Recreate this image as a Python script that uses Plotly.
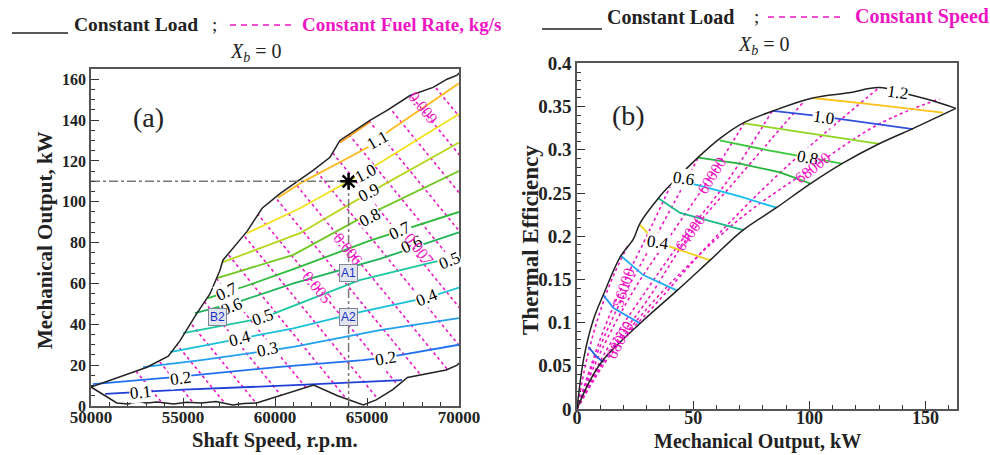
import plotly.graph_objects as go

W, H = 990, 455
def px(x): return x / W
def py(y): return 1 - y / H

SERIF = "Liberation Serif"
PINK = "#ee16c4"

# ---------------- Panel (a) data ----------------
UB_A_SPEED = [50000, 51740, 53040, 54200, 54840, 55760, 56470, 57010, 57170, 58480, 59300, 60270, 61360, 62070, 62990, 63530, 65160, 66090, 67340, 68590, 69350, 69900, 70000]
UB_A_POWER = [9.3, 15, 19, 24.4, 32, 45.5, 55, 66.5, 71.4, 85.5, 96.8, 104, 111, 115.4, 121.8, 130, 139.8, 144.7, 152, 156, 160, 162, 163]
LB_A_SPEED = [50000, 51400, 52000, 52600, 53000, 53600, 54500, 55200, 56000, 56800, 57700, 58300, 59000, 60420, 62100, 63400, 64800, 65500, 66400, 67200, 68400, 69300, 69900, 70000]
LB_A_POWER = [9.3, 1.5, 1.0, 2.2, 1.5, 2.0, 1.0, 1.8, 1.5, 2.2, 0.5, 1.2, 1.5, 5.4, 10.3, 5, 0.5, 3, 8, 14, 16, 17.6, 20, 21]

LOAD_A = ["0.1", "0.2", "0.3", "0.4", "0.5", "0.6", "0.7", "0.8", "0.9", "1.0", "1.1", "1.2"]
LOAD_A_SPEED = [
    [50770, 55000, 61360, 66900],
    [50100, 55000, 60270, 64780, 66250, 69900, 70000],
    [52830, 56000, 59570, 61000, 65700, 70000],
    [54290, 58100, 61000, 64600, 68260, 70000],
    [55000, 59300, 61000, 64600, 68600, 70000],
    [55650, 58000, 61000, 65700, 70000],
    [56360, 58500, 61000, 65160, 70000],
    [56850, 61000, 64460, 70000],
    [57170, 61360, 65160, 70000],
    [58480, 61360, 64000, 65330, 70000],
    [60160, 61360, 65050, 66250, 70000],
    [63530, 65160],
]
LOAD_A_POWER = [
    [5.9, 8.0, 10.3, 12.7],
    [10.7, 14.5, 19.2, 22.5, 24.1, 29.8, 30],
    [19, 22.5, 27, 29, 37.2, 43],
    [26.4, 33, 38, 46, 53, 58],
    [35.7, 43, 49, 61.6, 70.4, 73],
    [45.5, 51, 60, 72, 85],
    [52.8, 59, 67, 81, 95],
    [62.6, 74, 91, 115],
    [70.4, 84.6, 104.6, 129],
    [84.6, 96.8, 110, 117, 143],
    [102, 109, 126.7, 135, 158],
    [129, 139],
]
LOAD_A_COLOR = ["#1f3fd6", "#2070f0", "#22a0ee", "#18c0d8", "#1cc8a0", "#1db25a", "#2dbb3a", "#72c822", "#b4d81e", "#f2e21c", "#ffbb22", "#ff9a1a"]

FUEL_A = ["0.001", "0.0015", "0.002", "0.0025", "0.003", "0.0035", "0.004", "0.0045", "0.005", "0.0055", "0.006", "0.0065", "0.007", "0.0075", "0.008", "0.0085", "0.009", "0.0095"]
FUEL_A_SPEED_AT_0 = [54000, 55700, 57400, 59100, 60800, 62500, 64200, 65900, 67600, 69300, 71000, 72700, 74400, 76100, 77800, 79500, 81200, 82900]
FUEL_A_SPEED_AT_165 = [39000, 40700, 42400, 44100, 45800, 47500, 49200, 50900, 52600, 54300, 56000, 57700, 59400, 61100, 62800, 64500, 66200, 67900]

# ---------------- Panel (b) data ----------------
UB_B_POWER = [0, 3, 7, 11.3, 18.6, 24.3, 27.1, 35, 40, 52, 61.4, 71.4, 84.3, 101.4, 117, 130, 141.6, 152.7, 163]
UB_B_EFF = [0, 0.06, 0.103, 0.132, 0.176, 0.197, 0.215, 0.244, 0.259, 0.291, 0.313, 0.331, 0.345, 0.36, 0.366, 0.372, 0.365, 0.357, 0.348]
LB_B_POWER = [0, 5, 11.3, 27.1, 43, 57.2, 71.4, 85.8, 100, 114, 130, 144, 163]
LB_B_EFF = [0, 0.03, 0.057, 0.099, 0.137, 0.172, 0.207, 0.233, 0.26, 0.284, 0.307, 0.324, 0.348]

LOAD_B_POWER = [
    [4.9, 7.9, 11.3],
    [11.3, 15.6, 27.2],
    [18.6, 28.5, 43.1],
    [27.1, 31, 40, 57.3],
    [35, 44.4, 71.6],
    [42, 52, 70, 85.8],
    [52.2, 70, 87.4, 100.3],
    [61.4, 83, 114],
    [71.4, 83, 130],
    [84.3, 101.5, 112, 144.6],
    [101.5, 126, 157.4],
]
LOAD_B_EFF = [
    [0.072, 0.062, 0.054],
    [0.132, 0.117, 0.099],
    [0.178, 0.155, 0.137],
    [0.213, 0.202, 0.188, 0.172],
    [0.244, 0.227, 0.207],
    [0.264, 0.259, 0.246, 0.233],
    [0.291, 0.284, 0.274, 0.261],
    [0.311, 0.299, 0.284],
    [0.331, 0.326, 0.307],
    [0.345, 0.34, 0.336, 0.324],
    [0.36, 0.353, 0.343],
]
LOAD_B_COLOR = ["#1f5fe0", "#1e90ff", "#20b0f0", "#f2d21a", "#1cb88a", "#18bdf0", "#22b33a", "#3cc83c", "#8fd420", "#3050e0", "#ffc21a"]

SPEED_B = ["54000", "56000", "58000", "60000", "62000", "64000", "66000", "68000"]
SPEED_B_POWER = [
    [0, 4, 9, 15, 22],
    [0, 6, 12, 20, 30, 40],
    [0, 8, 18, 30, 42, 52],
    [0, 10, 25, 40, 57, 72],
    [0, 12, 28, 45, 65, 84],
    [0, 15, 30, 48.6, 70, 97],
    [0, 15, 35, 60, 90, 130],
    [0, 11, 18.6, 40, 70, 101, 130, 156],
]
SPEED_B_EFF = [
    [0, 0.055, 0.105, 0.15, 0.19],
    [0, 0.05, 0.095, 0.145, 0.2, 0.257],
    [0, 0.06, 0.12, 0.18, 0.24, 0.29],
    [0, 0.065, 0.14, 0.2, 0.267, 0.331],
    [0, 0.065, 0.13, 0.195, 0.265, 0.345],
    [0, 0.07, 0.125, 0.202, 0.27, 0.354],
    [0, 0.065, 0.125, 0.2, 0.28, 0.372],
    [0, 0.055, 0.08, 0.145, 0.22, 0.279, 0.33, 0.359],
]

fig = go.Figure()

# panel (a) pink fuel-rate lines
for i in range(len(FUEL_A)):
    fig.add_trace(go.Scatter(x=[FUEL_A_SPEED_AT_0[i], FUEL_A_SPEED_AT_165[i]], y=[0, 165], mode="lines",
                             line=dict(color=PINK, width=1.6, dash="3px,3px"), xaxis="x", yaxis="y", hoverinfo="skip"))
# white masks outside envelope
fig.add_trace(go.Scatter(x=UB_A_SPEED + [70000, 50000], y=UB_A_POWER + [170, 170], fill="toself", fillcolor="white",
                         mode="none", xaxis="x", yaxis="y", hoverinfo="skip"))
fig.add_trace(go.Scatter(x=LB_A_SPEED + [70000, 50000], y=LB_A_POWER + [-5, -5], fill="toself", fillcolor="white",
                         mode="none", xaxis="x", yaxis="y", hoverinfo="skip"))
for i in range(len(LOAD_A)):
    fig.add_trace(go.Scatter(x=LOAD_A_SPEED[i], y=LOAD_A_POWER[i], mode="lines",
                             line=dict(color=LOAD_A_COLOR[i], width=1.8), xaxis="x", yaxis="y", hoverinfo="skip"))
for xs, ys in [(UB_A_SPEED, UB_A_POWER), (LB_A_SPEED, LB_A_POWER)]:
    fig.add_trace(go.Scatter(x=xs, y=ys, mode="lines", line=dict(color="#222", width=1.5), xaxis="x", yaxis="y", hoverinfo="skip"))
# operating point guide lines
OP_SPEED, OP_POWER = [64000], [110]
fig.add_trace(go.Scatter(x=[50000, OP_SPEED[0]], y=[OP_POWER[0], OP_POWER[0]], mode="lines",
                         line=dict(color="#777", width=1.5, dash="dashdot"), xaxis="x", yaxis="y", hoverinfo="skip"))
fig.add_trace(go.Scatter(x=[OP_SPEED[0], OP_SPEED[0]], y=[0, OP_POWER[0]], mode="lines",
                         line=dict(color="#777", width=1.5, dash="dashdot"), xaxis="x", yaxis="y", hoverinfo="skip"))
fig.add_trace(go.Scatter(x=OP_SPEED, y=OP_POWER, mode="markers",
                         marker=dict(symbol="asterisk-open", size=14, color="black", line=dict(color="black", width=2.5)),
                         xaxis="x", yaxis="y", hoverinfo="skip"))

# panel (b)
for i in range(len(SPEED_B)):
    fig.add_trace(go.Scatter(x=SPEED_B_POWER[i], y=SPEED_B_EFF[i], mode="lines", line_shape="spline",
                             line=dict(color=PINK, width=1.6, dash="3px,3px"), xaxis="x2", yaxis="y2", hoverinfo="skip"))
for i in range(len(LOAD_B_POWER)):
    fig.add_trace(go.Scatter(x=LOAD_B_POWER[i], y=LOAD_B_EFF[i], mode="lines",
                             line=dict(color=LOAD_B_COLOR[i], width=1.8), xaxis="x2", yaxis="y2", hoverinfo="skip"))
for xs, ys in [(UB_B_POWER, UB_B_EFF), (LB_B_POWER, LB_B_EFF)]:
    fig.add_trace(go.Scatter(x=xs, y=ys, mode="lines", line=dict(color="#222", width=1.5), line_shape="spline",
                             xaxis="x2", yaxis="y2", hoverinfo="skip"))

ann = []
def lab(x, y, t, ref, angle=0, size=16, color="black", bg="white"):
    ann.append(dict(x=x, y=y, xref=ref[0], yref=ref[1], text=t, showarrow=False, textangle=angle,
                    font=dict(family=SERIF, size=size, color=color), bgcolor=bg, borderpad=0))

A = ("x", "y"); B = ("x2", "y2")
# load labels panel (a)
for x, y, t, a in [(52700, 6.5, "0.1", -6), (54840, 13.7, "0.2", -8), (66000, 23.5, "0.2", -10),
                   (59570, 27.5, "0.3", -12), (58100, 33, "0.4", -15), (68260, 53, "0.4", -22),
                   (59300, 43.5, "0.5", -20), (69500, 71, "0.5", -22), (57660, 48.5, "0.6", -22),
                   (67400, 79, "0.6", -25), (57390, 56, "0.7", -25), (66800, 86, "0.7", -26),
                   (65160, 92.5, "0.8", -28), (65100, 104.6, "0.9", -28), (64900, 113.8, "1.0", -28), (65550, 130, "1.1", -30)]:
    lab(x, y, t, A, a, 17)
# fuel labels panel (a)
for x, y, t in [(68044, 146, "0.009"), (67800, 77, "0.007"), (63950, 77, "0.006"), (62300, 58, "0.005")]:
    lab(x, y, t, A, 51, 16, PINK, "rgba(255,255,255,0)")
# boxes
for x, y, t in [(64000, 65, "A1"), (64000, 43.5, "A2"), (56900, 43.5, "B2")]:
    ann.append(dict(x=x, y=y, xref="x", yref="y", text=t, showarrow=False,
                    font=dict(family="Liberation Sans", size=12, color="#1830c8"), bgcolor="#e2e5ee",
                    bordercolor="#7d8597", borderwidth=1, borderpad=1))
lab(53130, 141.5, "(a)", A, 0, 28, "#222", "rgba(0,0,0,0)")

# panel (b) labels
for x, y, t, a in [(35, 0.193, "0.4", 8), (45.7, 0.267, "0.6", 8), (99, 0.291, "0.8", 10), (106, 0.337, "1.0", 8), (137.7, 0.366, "1.2", 8)]:
    lab(x, y, t, B, a, 17)
for x, y, t, a in [(19.9, 0.141, "56000", -72), (58, 0.27, "60000", -58), (48.7, 0.204, "64000", -55),
                   (101.6, 0.279, "68000", -38), (18.6, 0.08, "68000", -62)]:
    lab(x, y, t, B, a, 16, PINK, "rgba(255,255,255,0)")
lab(22, 0.34, "(b)", B, 0, 28, "#222", "rgba(0,0,0,0)")

# headers and axis titles
def hdr(x, y, t, size=19, color="#222", anchor="left", angle=0):
    ann.append(dict(x=px(x), y=py(y), xref="paper", yref="paper", text=t, showarrow=False, xanchor=anchor,
                    yanchor="middle", textangle=angle, font=dict(family=SERIF, size=size, color=color)))
hdr(72, 24, "<b>Constant Load</b>", 19.5)
hdr(210, 24, ";")
hdr(300, 24, "<b>Constant Fuel Rate, kg/s</b>", 19, PINK)
hdr(256, 52, "<i>X</i><sub><i>b</i></sub> = 0", 20, "#222", "center")
hdr(605, 17, "<b>Constant Load</b>", 20)
hdr(752, 17, ";")
hdr(853, 17, "<b>Constant Speed</b>", 20, PINK)
hdr(764, 46, "<i>X</i><sub><i>b</i></sub> = 0", 20, "#222", "center")
hdr(275, 440, "<b>Shaft Speed, r.p.m.</b>", 20.5, "#222", "center")
hdr(757, 441, "<b>Mechanical Output, kW</b>", 20, "#222", "center")
hdr(45, 240, "<b>Mechanical Output, kW</b>", 21, "#222", "center", -90)
hdr(530, 240, "<b>Thermal Efficiency</b>", 23, "#222", "center", -90)

shapes = [
    dict(type="line", xref="paper", yref="paper", x0=px(12), x1=px(68), y0=py(33), y1=py(33), line=dict(color="#222", width=1.5)),
    dict(type="line", xref="paper", yref="paper", x0=px(230), x1=px(292), y0=py(25), y1=py(25), line=dict(color=PINK, width=1.5, dash="6px,5px")),
    dict(type="line", xref="paper", yref="paper", x0=px(542), x1=px(602), y0=py(29), y1=py(29), line=dict(color="#222", width=1.5)),
    dict(type="line", xref="paper", yref="paper", x0=px(768), x1=px(843), y0=py(17), y1=py(17), line=dict(color=PINK, width=1.5, dash="6px,5px")),
]

def tf(s):
    return dict(family=SERIF, size=s, color="#222", weight="bold")
common = dict(showgrid=False, zeroline=False, showline=True, mirror=True, linecolor="#555", linewidth=1.5,
              ticks="inside", ticklen=8, tickwidth=1.2, tickcolor="#333", automargin=False)

fig.update_layout(
    width=W, height=H, margin=dict(l=0, r=0, t=0, b=0, autoexpand=False), paper_bgcolor="white", plot_bgcolor="white",
    showlegend=False, annotations=ann, shapes=shapes,
    xaxis=dict(domain=[px(91), px(459)], range=[50000, 70000], tickvals=[50000, 55000, 60000, 65000, 70000],
               tickformat="d", tickfont=tf(17), ticklabelstandoff=-5,
               minor=dict(dtick=1000, ticks="inside", ticklen=4, tickcolor="#333"), anchor="y", **common),
    yaxis=dict(domain=[py(406), py(69)], range=[0, 165], dtick=20, tickfont=tf(16),
               minor=dict(dtick=5, ticks="inside", ticklen=4, tickcolor="#333"), anchor="x", **common),
    xaxis2=dict(domain=[px(577), px(957)], range=[0, 163.5], dtick=50, tickfont=tf(18), ticklabelstandoff=-8,
                minor=dict(dtick=10, ticks="inside", ticklen=4, tickcolor="#333"), anchor="y2", **common),
    yaxis2=dict(domain=[py(409), py(63)], range=[0, 0.4005], dtick=0.05, tickfont=tf(19),
                minor=dict(dtick=0.01, ticks="inside", ticklen=4, tickcolor="#333"), anchor="x2", **common),
)
fig.write_html("out.html")
